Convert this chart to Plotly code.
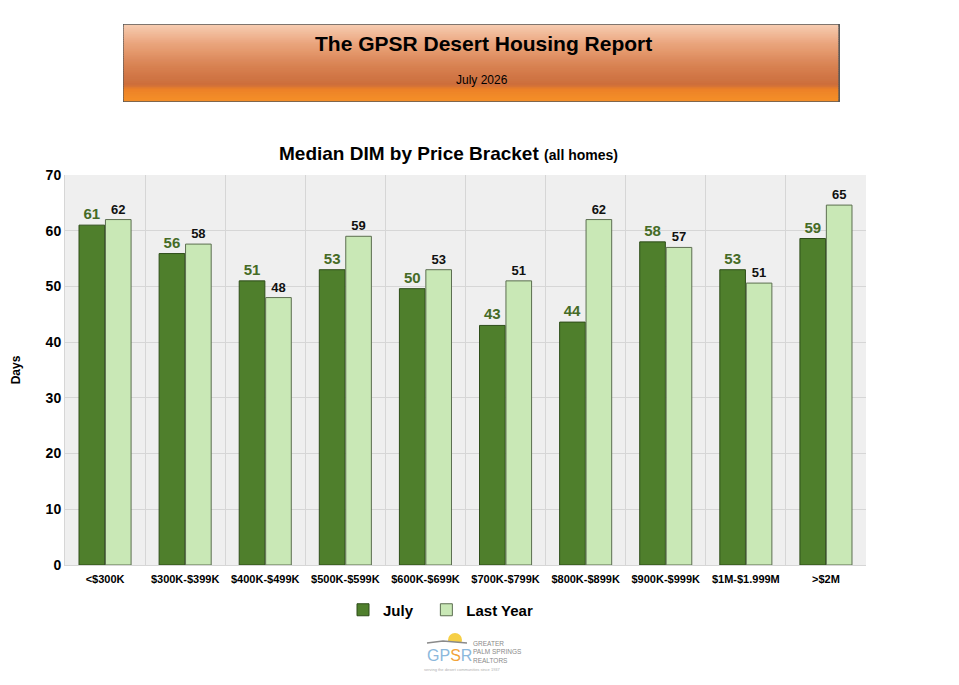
import plotly.graph_objects as go

# categories and values (bar heights, labels are rounded)
brackets = ["<$300K", "$300K-$399K", "$400K-$499K", "$500K-$599K", "$600K-$699K",
            "$700K-$799K", "$800K-$899K", "$900K-$999K", "$1M-$1.999M", ">$2M"]
july = [61, 55.9, 51, 53, 49.6, 43, 43.6, 58, 53, 58.6]
last_year = [62, 57.6, 48, 59, 53, 51, 62, 57, 50.6, 64.6]

# page is drawn with an 8px body margin
OFF = 8
W, H = 959 - OFF, 685 - OFF
L, R, T, B = 65, 866, 175, 565


# page pixel -> paper helpers
def px(x):
    return (x - L) / (R - L)


def py(y):
    return (B - y) / (B - T)


def mix(c1, c2, t):
    return "rgb(%d,%d,%d)" % tuple(round(a + (b - a) * t) for a, b in zip(c1, c2))


xs = list(range(len(brackets)))

fig = go.Figure()
fig.add_trace(go.Bar(
    x=xs, y=july, name="<b>July</b>&nbsp;&nbsp;",
    marker=dict(color="#4f7f2c", line=dict(color="#2e4d19", width=1)),
    texttemplate="<b>%{y:.0f}</b>", textposition="outside",
    textfont=dict(color="#456b26", size=15, family="Liberation Sans"),
    cliponaxis=False,
))
fig.add_trace(go.Bar(
    x=xs, y=last_year, name="<b>Last Year</b>",
    marker=dict(color="#c9e8b6", line=dict(color="#5c6e50", width=1)),
    texttemplate="<b>%{y:.0f}</b>", textposition="outside",
    textfont=dict(color="#111111", size=13, family="Liberation Sans"),
    cliponaxis=False,
))

shapes = []
# header box: shadow + vertical gradient made of strips
hx0, hx1, hy0, hy1 = 124, 838, 25, 100
shapes.append(dict(type="rect", xref="paper", yref="paper",
                   x0=px(hx0 - 1), x1=px(hx1 + 2), y0=py(hy1 + 2), y1=py(hy0 - 1),
                   fillcolor="#5a5a5a", line=dict(width=0), layer="above"))
stops = [(0.0, (247, 205, 178)), (0.25, (234, 165, 125)), (0.55, (216, 130, 82)),
         (0.8, (204, 110, 60)), (0.86, (236, 130, 40)), (1.0, (244, 142, 40))]
n = 40
for i in range(n):
    t = (i + 0.5) / n
    for (a, ca), (b, cb) in zip(stops, stops[1:]):
        if a <= t <= b:
            col = mix(ca, cb, (t - a) / (b - a))
            break
    y0 = hy0 + (hy1 - hy0) * i / n
    y1 = hy0 + (hy1 - hy0) * (i + 1) / n
    shapes.append(dict(type="rect", xref="paper", yref="paper",
                       x0=px(hx0), x1=px(hx1), y0=py(y1 + 1), y1=py(y0),
                       fillcolor=col, line=dict(color=col, width=0.5), layer="above"))
# logo: sun, roof line
shapes.append(dict(type="circle", xref="paper", yref="paper",
                   x0=px(448), x1=px(462), y0=py(647), y1=py(633),
                   fillcolor="#f6cf45", line=dict(width=0), layer="above"))
shapes.append(dict(type="rect", xref="paper", yref="paper",
                   x0=px(440), x1=px(470), y0=py(652), y1=py(642),
                   fillcolor="white", line=dict(width=0), layer="above"))
shapes.append(dict(type="path", xref="paper", yref="paper",
                   path="M %f %f L %f %f L %f %f" % (px(427), py(643), px(443), py(641), px(467), py(643)),
                   line=dict(color="#8a8a8a", width=1.5), layer="above"))


def note(text, x, y, size, color="black", **kw):
    d = dict(text=text, x=px(x), y=py(y), xref="paper", yref="paper", showarrow=False,
             xanchor="center", yanchor="middle",
             font=dict(size=size, color=color, family="Liberation Sans"))
    d.update(kw)
    return d


annotations = [
    note("<b>The GPSR Desert Housing Report</b>", 484, 43, 21),
    note("July 2026", 482, 80, 12),
    note("<b>Median DIM by Price Bracket</b> <b><span style='font-size:14px'>(all homes)</span></b>",
         448, 153, 19),
    note("<span style='color:#8cb8dc'>GP</span><span style='color:#f2a33a'>S</span>"
         "<span style='color:#8cb8dc'>R</span>", 449, 655, 16),
    note("GREATER<br>PALM SPRINGS<br>REALTORS", 471, 652, 6.5, "#8a8a8a",
         xanchor="left", align="left"),
    note("serving the desert communities since 1937", 462, 669, 4, "#b0b0b0"),
]

fig.update_layout(
    width=W, height=H,
    margin=dict(l=L - OFF, r=959 - R, t=T - OFF, b=685 - B, autoexpand=False),
    paper_bgcolor="white",
    plot_bgcolor="#efefef",
    barmode="group",
    bargap=0.34,
    bargroupgap=0.03,
    showlegend=True,
    legend=dict(orientation="h", x=px(343), y=py(610), xanchor="left", yanchor="middle",
                font=dict(size=15, color="black", family="Liberation Sans"),
                itemwidth=30, traceorder="normal"),
    shapes=shapes,
    annotations=annotations,
    font=dict(family="Liberation Sans", color="black"),
)
fig.update_xaxes(
    range=[-0.5, len(brackets) - 0.5],
    tickvals=xs, ticktext=["<b>%s</b>" % b for b in brackets],
    tickfont=dict(size=11, family="Liberation Sans"),
    ticklabelstandoff=4,
    showgrid=False,
    minor=dict(tick0=-0.5, dtick=1, showgrid=True, gridcolor="#d6d6d6", gridwidth=1),
    showline=True, linecolor="#d6d6d6", ticks="", automargin=False,
)
fig.update_yaxes(
    range=[0, 70], dtick=10,
    tickfont=dict(size=14, family="Liberation Sans"),
    tickprefix="<b>", ticksuffix="</b>",
    gridcolor="#d6d6d6", zeroline=False,
    title=dict(text="<b>Days</b>", font=dict(size=12), standoff=22),
    showline=True, linecolor="#d6d6d6", automargin=False,
)

fig.write_html("out.html")
